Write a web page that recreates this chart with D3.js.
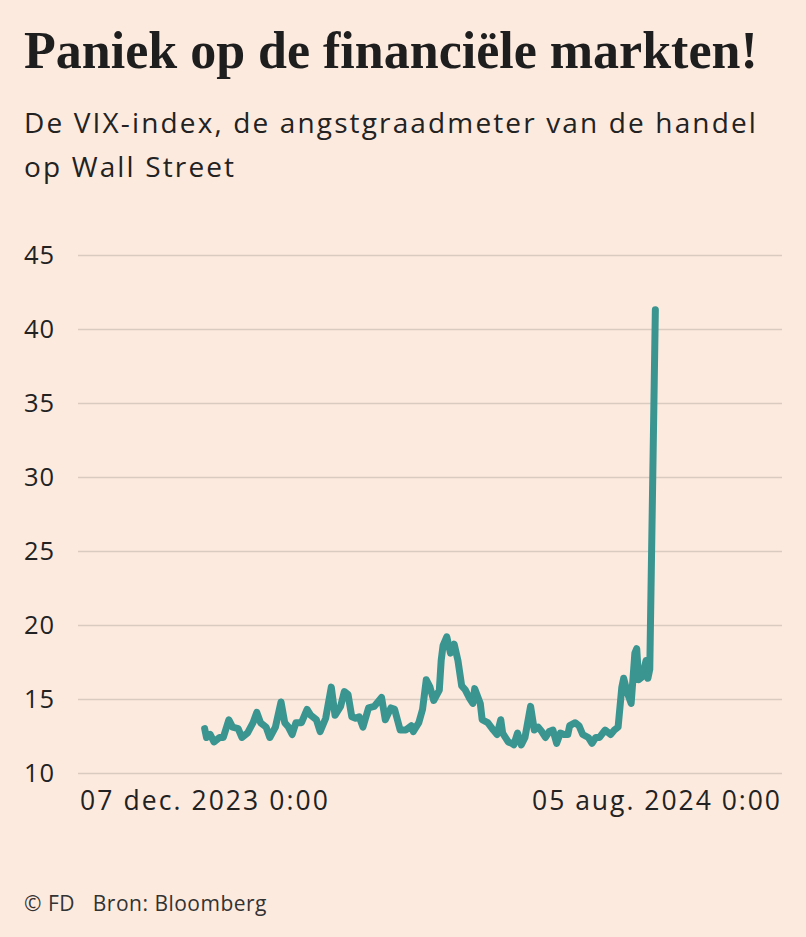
<!DOCTYPE html>
<html>
<head>
<meta charset="utf-8">
<script src="https://cdn.jsdelivr.net/npm/d3@7"></script>
<style>
  body { margin: 0; background: #fdeadf; }
  svg { display: block; }
</style>
</head>
<body>
<div id="chart"></div>
<script>
// VIX data: days after 7 Dec 2023 and index level
const startDate = new Date(2023, 11, 7);
const endDate = new Date(2024, 7, 5);
const dayOffsets = [
  0, 1, 3, 5, 8, 10, 13, 15, 18, 20, 23, 26, 28, 30, 33, 35, 38, 41, 43, 45,
  47, 49, 52, 55, 57, 60, 62, 65, 68, 70, 73, 75, 77, 79, 81, 83, 85, 88, 91, 93,
  95, 97, 100, 102, 105, 108, 111, 112, 115, 117, 119, 121, 123, 126, 127, 128, 130, 132, 134, 136,
  138, 140, 142, 144, 145, 148, 149, 152, 155, 157, 159, 160, 163, 165, 166, 168, 170, 172, 175, 177,
  179, 181, 183, 185, 187, 189, 191, 193, 195, 196, 199, 201, 203, 206, 208, 210, 212, 215, 218, 220,
  222, 224, 225, 227, 229, 231, 232, 233, 235, 237, 238, 239, 242
];
const vixValues = [
  13.0, 12.4, 12.6, 12.1, 12.4, 12.4, 13.6, 13.1, 13.0, 12.4, 12.7, 13.4, 14.1, 13.4, 13.1, 12.4, 13.1, 14.8, 13.4, 13.1,
  12.6, 13.4, 13.4, 14.3, 13.9, 13.6, 12.8, 13.7, 15.8, 13.9, 14.5, 15.5, 15.3, 13.8, 13.7, 13.8, 13.1, 14.4, 14.5, 14.8,
  15.1, 13.6, 14.4, 14.3, 12.9, 12.9, 13.2, 12.8, 13.4, 14.3, 16.3, 15.8, 14.9, 15.6, 17.6, 18.6, 19.2, 18.1, 18.7, 17.6,
  15.9, 15.6, 15.1, 14.7, 15.7, 14.7, 13.6, 13.4, 12.9, 12.6, 13.6, 12.7, 12.1, 12.0, 11.9, 12.7, 11.9, 12.4, 14.5, 12.9,
  13.1, 12.8, 12.4, 12.8, 12.9, 12.0, 12.7, 12.6, 12.6, 13.2, 13.4, 13.2, 12.6, 12.4, 12.0, 12.4, 12.4, 12.9, 12.6, 12.9,
  13.1, 15.8, 16.4, 15.4, 14.7, 18.1, 18.4, 16.3, 16.5, 17.6, 16.4, 17.0, 41.3
];
const yTicks = [10, 15, 20, 25, 30, 35, 40, 45];
const padDays = 68;

const title = "Paniek op de financiële markten!";
const subtitleLines = ["De VIX-index, de angstgraadmeter van de handel", "op Wall Street"];
const footer = "© FD   Bron: Bloomberg";

const W = 806, H = 937;
const margin = { top: 255, right: 24, bottom: 164, left: 78 };
const plotW = W - margin.left - margin.right;
const plotH = H - margin.top - margin.bottom;
const sans = "Open Sans, Lato, sans-serif";

const nl = d3.timeFormatLocale({
  dateTime: "%a %e %B %Y %X", date: "%d-%m-%Y", time: "%H:%M:%S",
  periods: ["AM", "PM"],
  days: ["zondag", "maandag", "dinsdag", "woensdag", "donderdag", "vrijdag", "zaterdag"],
  shortDays: ["zo", "ma", "di", "wo", "do", "vr", "za"],
  months: ["januari", "februari", "maart", "april", "mei", "juni", "juli", "augustus", "september", "oktober", "november", "december"],
  shortMonths: ["jan.", "feb.", "mrt.", "apr.", "mei", "jun.", "jul.", "aug.", "sep.", "okt.", "nov.", "dec."]
});
const fmt = nl.format("%d %b %Y %-H:%M");

const data = dayOffsets.map((d, i) => ({
  date: d3.timeDay.offset(startDate, d),
  value: vixValues[i]
}));

const svg = d3.select("#chart").append("svg")
  .attr("width", W).attr("height", H);

svg.append("rect").attr("width", W).attr("height", H).attr("fill", "#fdeadf");

// fit a text element to a target width by changing font-size
function fitWidth(sel, target) {
  const len = sel.node().getComputedTextLength();
  const fs = parseFloat(sel.attr("font-size"));
  sel.attr("font-size", fs * target / len);
}

// widen a text element with letter-spacing, returns the spacing used
function fitSpacing(sel, target) {
  const len = sel.node().getComputedTextLength();
  const n = sel.text().length;
  const ls = (target - len) / n;
  sel.attr("letter-spacing", ls);
  return ls;
}

const t = svg.append("text")
  .attr("x", 24).attr("y", 68)
  .attr("font-family", "Liberation Serif, serif")
  .attr("font-weight", "bold")
  .attr("font-size", 46)
  .attr("fill", "#1e1e1e")
  .text(title);
fitWidth(t, 734);

const subs = svg.selectAll(".sub")
  .data(subtitleLines)
  .join("text")
  .attr("class", "sub")
  .attr("x", 24)
  .attr("y", (d, i) => 133 + i * 44)
  .attr("font-family", sans)
  .attr("font-size", 28)
  .attr("fill", "#222")
  .text(d => d);
const subLs = fitSpacing(d3.select(subs.nodes()[0]), 734);
subs.attr("letter-spacing", subLs);

const g = svg.append("g")
  .attr("transform", `translate(${margin.left},${margin.top})`);

const x = d3.scaleTime()
  .domain([d3.timeDay.offset(startDate, -padDays), d3.timeDay.offset(endDate, padDays)])
  .range([0, plotW]);

const y = d3.scaleLinear().domain([10, 45]).range([plotH, 0]);

const yAxis = g.append("g")
  .call(d3.axisLeft(y).tickValues(yTicks).tickSize(-plotW).tickPadding(0));
yAxis.select(".domain").remove();
yAxis.selectAll(".tick line")
  .attr("stroke", "#d9cbc0")
  .attr("stroke-width", 1.6);
yAxis.selectAll(".tick text")
  .attr("x", 24 - margin.left)
  .attr("text-anchor", "start")
  .attr("font-family", sans)
  .attr("font-size", 25.5)
  .attr("letter-spacing", 1)
  .attr("fill", "#222");

// date labels at both ends of the axis
const xLabels = [startDate, endDate];
const xl = g.selectAll(".xlab")
  .data(xLabels)
  .join("text")
  .attr("class", "xlab")
  .attr("x", (d, i) => (i === 0 ? 2 : plotW))
  .attr("y", plotH + 37)
  .attr("text-anchor", (d, i) => (i === 0 ? "start" : "end"))
  .attr("font-family", sans)
  .attr("font-size", 26.5)
  .attr("fill", "#222")
  .text(d => fmt(d));
xl.each(function () { fitSpacing(d3.select(this), 250); });

const line = d3.line()
  .x(d => x(d.date))
  .y(d => y(d.value));

g.append("path")
  .datum(data)
  .attr("d", line)
  .attr("fill", "none")
  .attr("stroke", "#3a9591")
  .attr("stroke-width", 7)
  .attr("stroke-linejoin", "round")
  .attr("stroke-linecap", "round");

const ft = svg.append("text")
  .attr("x", 24).attr("y", 911)
  .attr("font-family", sans)
  .attr("font-size", 21)
  .attr("fill", "#333")
  .style("white-space", "pre")
  .text(footer);
fitSpacing(ft, 243);
</script>
</body>
</html>
